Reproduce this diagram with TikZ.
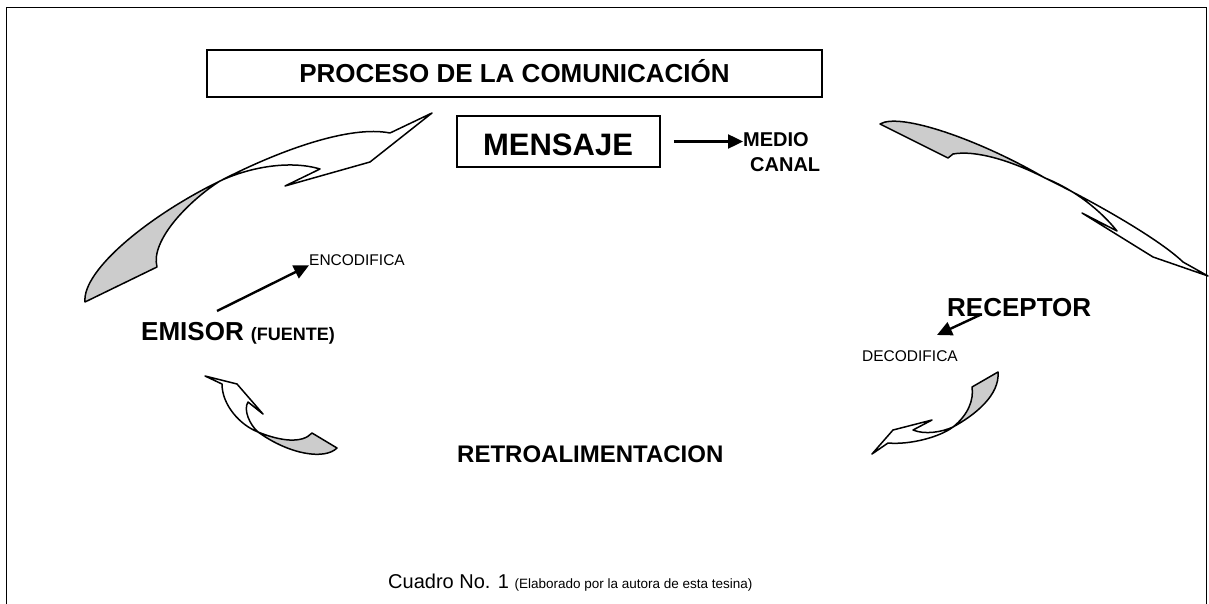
\documentclass[tikz,border=0pt]{standalone}
\usepackage{fontspec}
\setmainfont{Liberation Sans}
\usetikzlibrary{arrows.meta}
\definecolor{shadegray}{RGB}{204,204,204}
\newcommand\setfs[1]{\fontsize{#1}{#1}\selectfont}
\begin{document}
\begin{tikzpicture}[x=1pt,y=-1pt,
  frameline/.style={line width=1.7pt},
  boxnode/.style={draw, line width=1.5pt, inner sep=0pt},
  lbl/.style={inner sep=0pt, anchor=base west},
  conn/.style={-{Triangle[length=15pt,width=14pt]}, line width=2.4pt},
  ribbon/.style={draw, line width=1.5pt, line join=round, fill=white},
  ribbonshade/.style={ribbon, fill=shadegray}]
\useasboundingbox (0,0) rectangle (1209,604);
% frame
\draw[frameline] (6.5,604) -- (6.5,7.5) -- (1206.5,7.5) -- (1206.5,604);
% title
\node[boxnode, minimum width=615pt, minimum height=47pt, text height=18.6pt, text depth=0pt,
      font=\setfs{26}\bfseries] (title) at (514.5,73.5) {PROCESO DE LA COMUNICACIÓN};
% mensaje
\node[boxnode, minimum width=203pt, minimum height=51pt] (mensaje) at (558.5,141.5) {};
\node[inner sep=0pt, anchor=base, font=\setfs{31}\bfseries] (mensajetxt) at (558,156) {MENSAJE};
\node[lbl, font=\setfs{20}\bfseries] (medio) at (743,147) {MEDIO};
\node[lbl, font=\setfs{20}\bfseries] (canal) at (750,171.5) {CANAL};
\draw[conn] ([xshift=13pt]mensaje.east) -- (mensaje.east -| medio.west);
% emisor
\node[lbl, font=\setfs{15.5}] (enc) at (309,265) {ENCODIFICA};
\node[lbl, font=\setfs{26}\bfseries] (emisor) at (141,340) {EMISOR {\setfs{18}(FUENTE)}};
\coordinate (encTail) at (217,311);
\draw[conn] (encTail) -- (enc.south west);
% receptor
\node[lbl, font=\setfs{26}\bfseries] (recep) at (947,316) {RECEPTOR};
\node[lbl, font=\setfs{15.5}] (decod) at (862,361) {DECODIFICA};
\coordinate (recTail) at (980,315);
\coordinate (recTip) at (937,335);
\draw[conn] (recTail) -- (recTip);
% retro
\node[lbl, font=\setfs{24}\bfseries] (retro) at (457,462) {RETROALIMENTACION};
% caption
\node[lbl, font=\setfs{20}] (caption) at (388,588) {Cuadro No. 1 {\setfs{13.5}(Elaborado por la autora de esta tesina)}};
% ribbon top-left
\path[ribbonshade] (85,302) .. controls (82,270) and (150,215) .. (220,181)
   .. controls (190,200) and (150,240) .. (157,267) -- cycle;
\path[ribbon] (220,181) .. controls (280,150) and (350,125) .. (390,133)
   -- (432,113) -- (370,162) -- (285,186) -- (320,169)
   .. controls (290,160) and (250,167) .. (220,181) -- cycle;
% ribbon top-right
\path[ribbonshade] (880,124) .. controls (900,112) and (980,140) .. (1045,178)
   .. controls (1010,160) and (975,150) .. (953,154) -- (948,158) -- cycle;
\path[ribbon] (1045,178) .. controls (1100,205) and (1160,240) .. (1183,262)
   -- (1208,276) -- (1153,257) -- (1082,213) -- (1117,231)
   .. controls (1100,210) and (1075,190) .. (1045,178) -- cycle;
% ribbon bottom-left
\path[ribbon] (222,384) .. controls (222,405) and (240,425) .. (258,432)
   .. controls (250,425) and (243,410) .. (248,402)
   -- (263,414) -- (237,384) -- (205,376) -- cycle;
\path[ribbonshade] (258,432) .. controls (280,441) and (302,444) .. (312,433)
   -- (337,448) .. controls (325,460) and (290,455) .. (258,432) -- cycle;
% ribbon bottom-right
\path[ribbon] (872,454) -- (893,430) -- (932,420) -- (913,430)
   .. controls (925,435) and (942,432) .. (953,427)
   .. controls (940,437) and (910,445) .. (888,443) -- cycle;
\path[ribbonshade] (953,427) .. controls (975,415) and (1000,395) .. (998,372)
   -- (972,387) .. controls (974,400) and (968,415) .. (953,427) -- cycle;
\end{tikzpicture}
\end{document}
